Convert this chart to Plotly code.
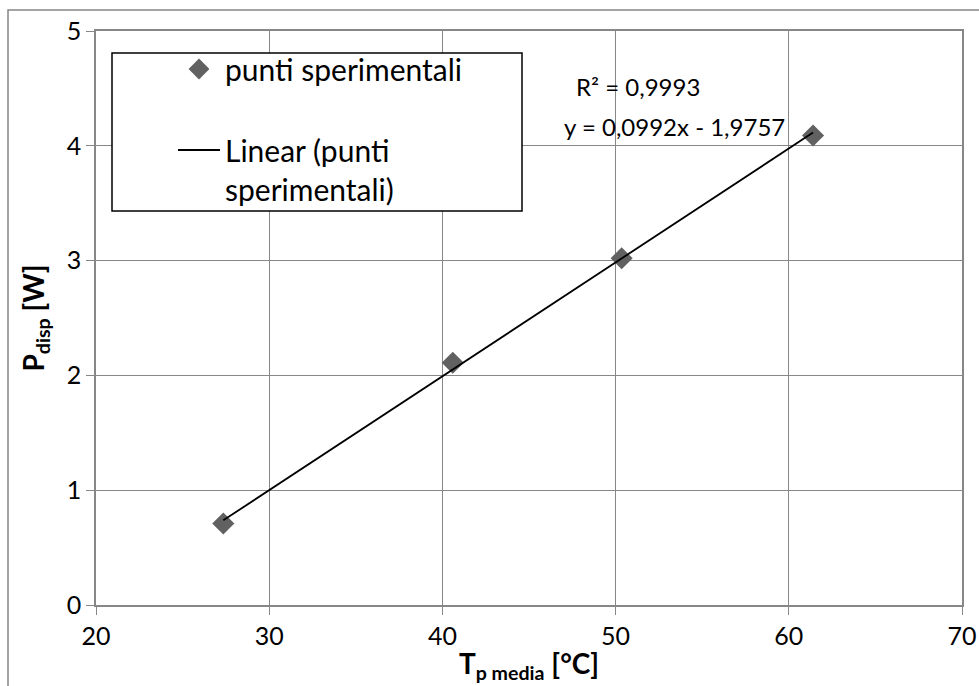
import plotly.graph_objects as go

# Data
temp_media = [27.35, 40.6, 50.35, 61.4]      # T_p media [°C]
p_disp = [0.71, 2.11, 3.02, 4.09]            # P_disp [W]
trend_slope = 0.0992
trend_intercept = -1.9757
trend_r2 = 0.9993
x_ticks = [20, 30, 40, 50, 60, 70]
y_ticks = [0, 1, 2, 3, 4, 5]

trend_x = [min(temp_media), max(temp_media)]
trend_y = [trend_slope * v + trend_intercept for v in trend_x]

FONT = "Lato"
GRID = "#878787"

fig = go.Figure()
fig.add_trace(go.Scatter(
    x=temp_media, y=p_disp, mode="markers", name="punti sperimentali",
    marker=dict(symbol="diamond", size=17, color="#616161"),
    legendgroup="a",
))
fig.add_trace(go.Scatter(
    x=trend_x, y=trend_y, mode="lines", name="Linear (punti<br>sperimentali)",
    line=dict(color="black", width=1.8),
    legendgroup="b",
))

def fmt(v, d):
    return f"{v:.{d}f}".replace(".", ",")

sign = "-" if trend_intercept < 0 else "+"
fig.add_annotation(xref="paper", yref="paper", x=(574 - 96) / 866, y=(605 - 87) / 574,
                   xanchor="left", yanchor="middle", showarrow=False,
                   text=f"R² = {fmt(trend_r2, 4)}", font=dict(family=FONT, size=24, color="black"))
fig.add_annotation(xref="paper", yref="paper", x=(562 - 96) / 866, y=(605 - 127) / 574,
                   xanchor="left", yanchor="middle", showarrow=False,
                   text=f"y = {fmt(trend_slope, 4)}x {sign} {fmt(abs(trend_intercept), 4)}",
                   font=dict(family=FONT, size=24, color="black"))

# legend box
fig.add_shape(type="rect", xref="paper", yref="paper",
              x0=(112 - 96) / 866, x1=(522 - 96) / 866,
              y0=(605 - 211) / 574, y1=(605 - 53) / 574,
              fillcolor="white", line=dict(color="black", width=1.5), layer="above")
# outer chart border
fig.add_shape(type="rect", xref="paper", yref="paper",
              x0=(8 - 96) / 866, x1=(1020 - 96) / 866,
              y0=(605 - 720) / 574, y1=(605 - 10) / 574,
              line=dict(color=GRID, width=1.5), layer="below")

fig.update_layout(
    width=979, height=686,
    margin=dict(l=96, r=17, t=31, b=81, autoexpand=False),
    paper_bgcolor="white", plot_bgcolor="white",
    font=dict(family=FONT, size=25, color="black"),
    showlegend=True,
    legend=dict(x=(173 - 96) / 866, y=(605 - 43) / 574, xanchor="left", yanchor="top",
                bgcolor="rgba(0,0,0,0)", borderwidth=0, valign="top",
                tracegroupgap=39, font=dict(family=FONT, size=30, color="black"),
                itemwidth=42),
    xaxis=dict(range=[20, 70], tickvals=x_ticks, showgrid=True, gridcolor=GRID, gridwidth=1,
               showline=True, linecolor=GRID, linewidth=1.5, mirror=True, automargin=False,
               ticks="outside", ticklen=8, tickcolor=GRID, zeroline=False,
               tickfont=dict(family=FONT, size=25, color="black"),
               title=dict(text="<b>T<sub>p media</sub> [°C]</b>", standoff=6,
                          font=dict(family=FONT, size=28, color="black"))),
    yaxis=dict(range=[0, 5], tickvals=y_ticks, showgrid=True, gridcolor=GRID, gridwidth=1,
               showline=True, linecolor=GRID, linewidth=1.5, mirror=True, automargin=False,
               ticks="outside", ticklen=8, tickcolor=GRID, zeroline=False,
               tickfont=dict(family=FONT, size=25, color="black"),
               title=dict(text="<b>P<sub>disp</sub> [W]</b>", standoff=14,
                          font=dict(family=FONT, size=28, color="black"))),
)

fig.write_html("out.html")
